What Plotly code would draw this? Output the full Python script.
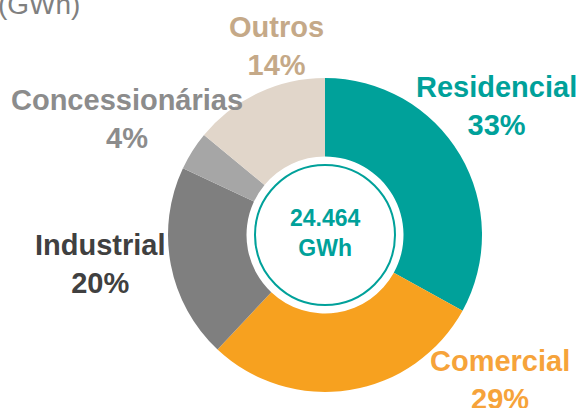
import plotly.graph_objects as go

W, H = 581, 408

categories = ["Residencial", "Comercial", "Industrial", "Concessionárias", "Outros"]
shares = [33, 29, 20, 4, 14]
total_label = "24.464"
unit_label = "GWh"

slice_colors = ["#00A19A", "#F7A11F", "#7F7F7F", "#A6A6A6", "#E1D6CA"]
text_colors = ["#00A19A", "#F6A33A", "#404040", "#8C8C8C", "#C5A988"]
# label centre positions in pixels (x from left, y from top)
label_px = [(496, 106), (500, 380), (100, 264), (127, 119), (276, 46)]

CX, CY, R = 325, 235, 157
FONT = "Liberation Sans, Arial, sans-serif"


def px(x):
    return x / W


def py(y):
    return 1 - y / H


fig = go.Figure(go.Pie(
    labels=categories,
    values=shares,
    sort=False,
    direction="clockwise",
    rotation=0,
    hole=0.5,
    marker=dict(colors=slice_colors, line=dict(width=0)),
    textinfo="none",
    hoverinfo="label+percent",
    showlegend=False,
    domain=dict(x=[px(CX - R), px(CX + R)], y=[py(CY + R), py(CY - R)]),
))

annotations = []
for cat, val, col, (lx, ly) in zip(categories, shares, text_colors, label_px):
    annotations.append(dict(
        text=f"<b>{cat}<br>{val}%</b>", x=px(lx), y=py(ly), xref="paper", yref="paper",
        xanchor="center", yanchor="middle", showarrow=False,
        font=dict(family=FONT, size=29, color=col),
    ))

annotations.append(dict(
    text=f"<b>{total_label}<br>{unit_label}</b>", x=px(CX), y=py(233), xref="paper", yref="paper",
    xanchor="center", yanchor="middle", showarrow=False,
    font=dict(family=FONT, size=23, color="#00A19A"),
))

annotations.append(dict(
    text="(GWh)", x=px(-4), y=py(5), xref="paper", yref="paper",
    xanchor="left", yanchor="middle", showarrow=False,
    font=dict(family=FONT, size=28, color="#808080"),
))

RC = 70
fig.update_layout(
    width=W, height=H,
    margin=dict(l=0, r=0, t=0, b=0),
    paper_bgcolor="white", plot_bgcolor="white",
    annotations=annotations,
    shapes=[dict(type="circle", xref="paper", yref="paper",
                 x0=px(CX - RC), x1=px(CX + RC), y0=py(CY + RC), y1=py(CY - RC),
                 line=dict(color="#00A19A", width=2))],
)

fig.write_html("out.html", config={"displayModeBar": False},
               post_script="document.body.style.margin='0';document.body.style.overflow='hidden';")
